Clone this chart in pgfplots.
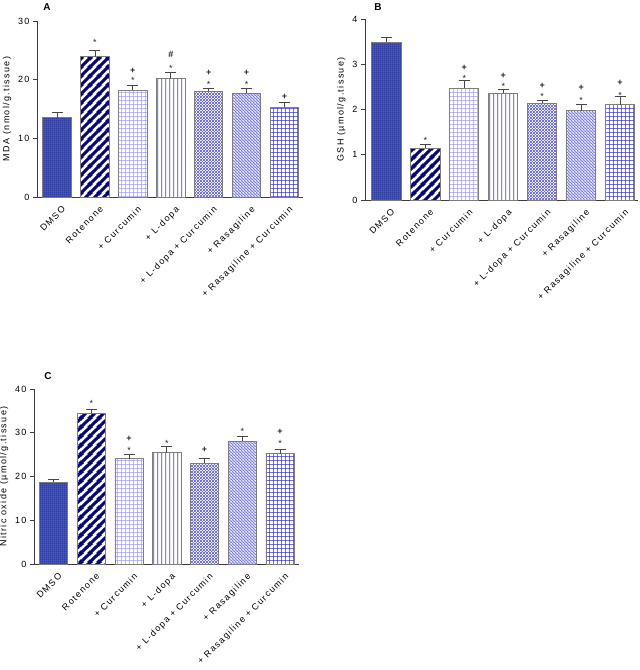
\documentclass[border=0pt]{standalone}
\usepackage{fontspec}
\setmainfont{Liberation Sans}
\newfontfamily\spc[LetterSpace=15]{Liberation Sans}
\usepackage{pgfplots}
\pgfplotsset{compat=1.18}
\usetikzlibrary{patterns}
\definecolor{axc}{RGB}{60,60,60}
\definecolor{barc}{RGB}{125,125,125}
\definecolor{errc}{RGB}{70,70,70}
\definecolor{navyb}{RGB}{5,5,125}
\definecolor{dmsofill}{RGB}{30,40,140}
\definecolor{dmsopat}{RGB}{95,115,215}
\definecolor{lgrid}{RGB}{150,150,255}
\definecolor{vlin}{RGB}{60,60,245}
\definecolor{hat}{RGB}{75,75,235}
\definecolor{dgrid}{RGB}{40,40,225}
% custom patterns
\pgfdeclarepatternformonly{thickne}{\pgfpointorigin}{\pgfqpoint{9pt}{9pt}}{\pgfqpoint{9pt}{9pt}}{%
  \pgfsetlinewidth{3.3pt}%
  \pgfpathmoveto{\pgfqpoint{-3pt}{-3pt}}\pgfpathlineto{\pgfqpoint{12pt}{12pt}}%
  \pgfpathmoveto{\pgfqpoint{-3pt}{6pt}}\pgfpathlineto{\pgfqpoint{3pt}{12pt}}%
  \pgfpathmoveto{\pgfqpoint{6pt}{-3pt}}\pgfpathlineto{\pgfqpoint{12pt}{3pt}}%
  \pgfusepath{stroke}}
\pgfdeclarepatternformonly{finene}{\pgfpointorigin}{\pgfqpoint{3pt}{3pt}}{\pgfqpoint{3pt}{3pt}}{%
  \pgfsetlinewidth{0.75pt}%
  \pgfpathmoveto{\pgfqpoint{-1pt}{-1pt}}\pgfpathlineto{\pgfqpoint{4pt}{4pt}}%
  \pgfpathmoveto{\pgfqpoint{-1pt}{2pt}}\pgfpathlineto{\pgfqpoint{1pt}{4pt}}%
  \pgfpathmoveto{\pgfqpoint{2pt}{-1pt}}\pgfpathlineto{\pgfqpoint{4pt}{1pt}}%
  \pgfusepath{stroke}}
\pgfdeclarepatternformonly{finenw}{\pgfpointorigin}{\pgfqpoint{3pt}{3pt}}{\pgfqpoint{3pt}{3pt}}{%
  \pgfsetlinewidth{0.75pt}%
  \pgfpathmoveto{\pgfqpoint{-1pt}{4pt}}\pgfpathlineto{\pgfqpoint{4pt}{-1pt}}%
  \pgfpathmoveto{\pgfqpoint{-1pt}{1pt}}\pgfpathlineto{\pgfqpoint{1pt}{-1pt}}%
  \pgfpathmoveto{\pgfqpoint{2pt}{4pt}}\pgfpathlineto{\pgfqpoint{4pt}{2pt}}%
  \pgfusepath{stroke}}
\pgfdeclarepatternformonly{vlines}{\pgfpointorigin}{\pgfqpoint{4pt}{4pt}}{\pgfqpoint{4pt}{4pt}}{%
  \pgfsetlinewidth{0.9pt}%
  \pgfpathmoveto{\pgfqpoint{2pt}{-1pt}}\pgfpathlineto{\pgfqpoint{2pt}{5pt}}%
  \pgfusepath{stroke}}
\pgfdeclarepatternformonly{gridA}{\pgfpointorigin}{\pgfqpoint{4pt}{4pt}}{\pgfqpoint{4pt}{4pt}}{%
  \pgfsetlinewidth{0.75pt}%
  \pgfpathmoveto{\pgfqpoint{2pt}{-1pt}}\pgfpathlineto{\pgfqpoint{2pt}{5pt}}%
  \pgfpathmoveto{\pgfqpoint{-1pt}{2pt}}\pgfpathlineto{\pgfqpoint{5pt}{2pt}}%
  \pgfusepath{stroke}}
\pgfdeclarepatternformonly{gridS}{\pgfpointorigin}{\pgfqpoint{2.2pt}{2.2pt}}{\pgfqpoint{2.2pt}{2.2pt}}{%
  \pgfsetlinewidth{0.75pt}%
  \pgfpathmoveto{\pgfqpoint{1.1pt}{-1pt}}\pgfpathlineto{\pgfqpoint{1.1pt}{3.2pt}}%
  \pgfpathmoveto{\pgfqpoint{-1pt}{1.1pt}}\pgfpathlineto{\pgfqpoint{3.2pt}{1.1pt}}%
  \pgfusepath{stroke}}
\newcommand{\lbl}{\spc\fontsize{9}{10}\selectfont}
\tikzset{ann/.style={font=\fontsize{9}{10}\selectfont, inner sep=0pt, text=black!85}}
\pgfplotsset{
  panel/.style={
    scale only axis, anchor=south west, clip=false,
    ybar, bar width=0.75, bar shift=0pt,
    ymin=0,
    axis x line*=bottom, axis y line*=left,
    axis line style={draw=axc, line width=0.8pt, -},
    xtick={0,...,6},
    xticklabels={DMSO, Rotenone, + Curcumin, + L-dopa, + L-dopa + Curcumin, + Rasagiline, + Rasagiline + Curcumin},
    x tick label style={rotate=45, anchor=north east, font=\lbl, inner sep=1pt, yshift=-5pt, xshift=1pt},
    xtick style={draw=none},
    ytick style={draw=axc, line width=0.8pt},
    tick align=outside, major tick length=4pt,
    y tick label style={font=\lbl, /pgf/number format/assume math mode=true},
    ylabel style={font=\lbl},
  },
  b0/.style={fill=dmsofill, draw=barc, line width=0.9pt, postaction={pattern=gridS, pattern color=dmsopat}},
  b1/.style={fill=white, draw=barc, line width=0.9pt, postaction={pattern=thickne, pattern color=navyb}},
  b2/.style={fill=white, draw=barc, line width=0.9pt, postaction={pattern=gridA, pattern color=lgrid}},
  b3/.style={fill=white, draw=barc, line width=0.9pt, postaction={pattern=vlines, pattern color=vlin}},
  b4/.style={fill=white, draw=barc, line width=0.9pt, postaction={pattern=finene, pattern color=hat}},
  b5/.style={fill=white, draw=barc, line width=0.9pt, postaction={pattern=finenw, pattern color=hat}},
  b6/.style={fill=white, draw=barc, line width=0.9pt, postaction={pattern=gridA, pattern color=dgrid}},
  errs/.style={draw=none, fill=none, forget plot, error bars/.cd, y dir=plus, y explicit,
    error bar style={draw=errc, line width=0.8pt, solid},
    error mark options={rotate=90, mark size=5.5pt, draw=errc, line width=0.8pt}},
}
\begin{document}
\begin{tikzpicture}
\path[use as bounding box] (0pt,0pt) rectangle (640pt,670pt);
% Panel A
\begin{axis}[panel, at={(37pt,473pt)}, width=266pt, height=176pt,
  xmin=-0.53, xmax=6.49, ymax=30, ytick={0,10,20,30},
  ylabel={MDA (nmol/g.tissue)}]
\addplot[b0] coordinates {(0,13.5)};
\addplot[b1] coordinates {(1,23.9)};
\addplot[b2] coordinates {(2,18.2)};
\addplot[b3] coordinates {(3,20.2)};
\addplot[b4] coordinates {(4,18.05)};
\addplot[b5] coordinates {(5,17.7)};
\addplot[b6] coordinates {(6,15.3)};
\addplot[errs] coordinates {(0,13.5) +- (0,0.9) (1,23.9) +- (0,1.1) (2,18.2) +- (0,0.8) (3,20.2) +- (0,1.1) (4,18.05) +- (0,0.4) (5,17.7) +- (0,0.8) (6,15.3) +- (0,0.8)};
\node[ann] at (axis cs:1,26.3) {*};
\node[ann] at (axis cs:2,21.5) {\textbf{+}};
\node[ann] at (axis cs:2,19.8) {*};
\node[ann] at (axis cs:3,24.3) {\textbf{\#}};
\node[ann] at (axis cs:3,22.0) {*};
\node[ann] at (axis cs:4,21.2) {\textbf{+}};
\node[ann] at (axis cs:4,19.2) {*};
\node[ann] at (axis cs:5,21.2) {\textbf{+}};
\node[ann] at (axis cs:5,19.2) {*};
\node[ann] at (axis cs:6,17.0) {\textbf{+}};
\end{axis}
% Panel B
\begin{axis}[panel, at={(365pt,470pt)}, width=273pt, height=181pt,
  xmin=-0.55, xmax=6.46, ymax=4, ytick={0,1,2,3,4},
  ylabel={GSH (µmol/g.tissue)}]
\addplot[b0] coordinates {(0,3.49)};
\addplot[b1] coordinates {(1,1.14)};
\addplot[b2] coordinates {(2,2.47)};
\addplot[b3] coordinates {(3,2.36)};
\addplot[b4] coordinates {(4,2.14)};
\addplot[b5] coordinates {(5,1.97)};
\addplot[b6] coordinates {(6,2.11)};
\addplot[errs] coordinates {(0,3.49) +- (0,0.11) (1,1.14) +- (0,0.09) (2,2.47) +- (0,0.18) (3,2.36) +- (0,0.09) (4,2.14) +- (0,0.07) (5,1.97) +- (0,0.14) (6,2.11) +- (0,0.18)};
\node[ann] at (axis cs:1,1.31) {*};
\node[ann] at (axis cs:2,2.91) {\textbf{+}};
\node[ann] at (axis cs:2,2.68) {*};
\node[ann] at (axis cs:3,2.74) {\textbf{+}};
\node[ann] at (axis cs:3,2.51) {*};
\node[ann] at (axis cs:4,2.53) {\textbf{+}};
\node[ann] at (axis cs:4,2.28) {*};
\node[ann] at (axis cs:5,2.47) {\textbf{+}};
\node[ann] at (axis cs:5,2.19) {*};
\node[ann] at (axis cs:6,2.59) {\textbf{+}};
\node[ann] at (axis cs:6,2.32) {*};
\end{axis}
% Panel C
\begin{axis}[panel, at={(34pt,106pt)}, width=265pt, height=175pt,
  xmin=-0.52, xmax=6.5, ymax=40, ytick={0,10,20,30,40},
  ylabel={Nitric oxide (µmol/g.tissue)}]
\addplot[b0] coordinates {(0,18.7)};
\addplot[b1] coordinates {(1,34.4)};
\addplot[b2] coordinates {(2,24.1)};
\addplot[b3] coordinates {(3,25.4)};
\addplot[b4] coordinates {(4,23.0)};
\addplot[b5] coordinates {(5,28.1)};
\addplot[b6] coordinates {(6,25.2)};
\addplot[errs] coordinates {(0,18.7) +- (0,0.7) (1,34.4) +- (0,1.0) (2,24.1) +- (0,0.9) (3,25.4) +- (0,1.4) (4,23.0) +- (0,1.2) (5,28.1) +- (0,1.1) (6,25.2) +- (0,1.1)};
\node[ann] at (axis cs:1,36.8) {*};
\node[ann] at (axis cs:2,28.6) {\textbf{+}};
\node[ann] at (axis cs:2,26.0) {*};
\node[ann] at (axis cs:3,27.6) {*};
\node[ann] at (axis cs:4,26.0) {\textbf{+}};
\node[ann] at (axis cs:5,30.3) {*};
\node[ann] at (axis cs:6,30.2) {\textbf{+}};
\node[ann] at (axis cs:6,27.5) {*};
\end{axis}
\node[font=\bfseries\fontsize{10}{12}\selectfont] at (47pt,663pt) {A};
\node[font=\bfseries\fontsize{10}{12}\selectfont] at (378pt,663pt) {B};
\node[font=\bfseries\fontsize{10}{12}\selectfont] at (48pt,294pt) {C};
\end{tikzpicture}
\end{document}
